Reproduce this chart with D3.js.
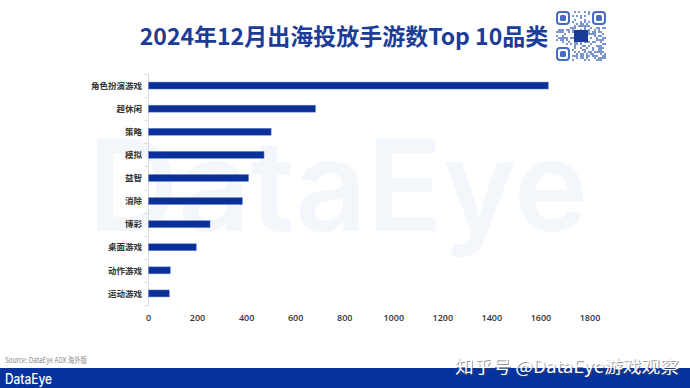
<!DOCTYPE html>
<html><head><meta charset="utf-8">
<script src="https://cdn.jsdelivr.net/npm/d3@7"></script>
<style>
html,body{margin:0;padding:0;background:#fff;}
svg{display:block;font-family:"Noto Sans CJK SC","Noto Sans",sans-serif;}
</style></head>
<body>
<svg id="c" width="690" height="388"></svg>
<script>
const categories = ["角色扮演游戏","超休闲","策略","模拟","益智","消除","博彩","桌面游戏","动作游戏","运动游戏"];
const values = [1630, 681, 500, 471, 408, 383, 251, 195, 89, 85];
const xTicks = [0,200,400,600,800,1000,1200,1400,1600,1800];
const titleText = "2024年12月出海投放手游数Top 10品类";
const sourceText = "Source: DataEye ADX 海外版";

const svg = d3.select("#c");
const W = 690, H = 388;

// background watermark (logo)
svg.append("text").attr("x", 88).attr("y", 231)
  .attr("font-family","Inter, 'Noto Sans', sans-serif").attr("font-size", 126)
  .attr("font-weight", 600).attr("fill", "#f3f7fc")
  .attr("textLength", 500).attr("lengthAdjust","spacingAndGlyphs")
  .text("DataEye");

const x = d3.scaleLinear().domain([0, 1800]).range([148.5, 590]);
const y = d3.scaleBand().domain(categories).range([74, 305]).paddingInner(0).paddingOuter(0);

// y axis line and band ticks
svg.append("line").attr("x1",148.5).attr("x2",148.5).attr("y1",74).attr("y2",305)
  .attr("stroke","#dcdcdc").attr("stroke-width",1);
const bounds = categories.map(c => y(c)).concat([y.range()[1]]);
svg.selectAll(".bt").data(bounds).join("line")
  .attr("x1",144.5).attr("x2",148.5).attr("y1",d=>Math.round(d)+0.5).attr("y2",d=>Math.round(d)+0.5)
  .attr("stroke","#dcdcdc");

// bars
const bh = 7;
svg.selectAll(".bar").data(categories).join("rect")
  .attr("x", x(0)).attr("y", d => y(d) + y.bandwidth()/2 - bh/2)
  .attr("width", (d,i) => x(values[i]) - x(0)).attr("height", bh)
  .attr("fill", "#0a2f98").attr("stroke","#6f8fd6").attr("stroke-width",0.5);

// category labels
svg.selectAll(".cl").data(categories).join("text")
  .attr("x", 142).attr("y", d => y(d) + y.bandwidth()/2 + 3.2)
  .attr("text-anchor","end").attr("font-size", 8.5).attr("font-weight",700).attr("fill","#333")
  .text(d => d);

// x tick labels
svg.selectAll(".xt").data(xTicks).join("text")
  .attr("x", d => x(d)).attr("y", 321)
  .attr("text-anchor","middle").attr("font-size", 9).attr("font-weight",600).attr("fill","#333")
  .attr("font-family","'Open Sans','Noto Sans',sans-serif")
  .text(d => d);

// title
svg.append("text").attr("x", 344).attr("y", 45).attr("text-anchor","middle")
  .attr("font-size", 23).attr("font-weight", 700).attr("fill", "#1b3c98")
  .text(titleText);

// QR code decoration
const qr = svg.append("g").attr("transform","translate(556,11)");
const N = 25, cs = 2;
qr.append("rect").attr("width", N*cs).attr("height", N*cs).attr("fill","#fff");
const cells = [];
for (let r=0;r<N;r++) for (let c=0;c<N;c++) {
  const inFinder = (r<8&&c<8)||(r<8&&c>=N-8)||(r>=N-8&&c<8);
  const h = ((r*73856093) ^ (c*19349663) ^ (r*c*83492791)) >>> 0;
  if (!inFinder && (h % 7) < 3) cells.push([r,c]);
}
qr.selectAll(".q").data(cells).join("rect")
  .attr("x", d=>d[1]*cs).attr("y", d=>d[0]*cs).attr("width",cs).attr("height",cs).attr("fill","#7d96d0");
[[0,0],[0,N-7],[N-7,0]].forEach(([r,c])=>{
  qr.append("rect").attr("x",c*cs+1).attr("y",r*cs+1).attr("width",7*cs-2).attr("height",7*cs-2)
    .attr("fill","none").attr("stroke","#4a6bbf").attr("stroke-width",2).attr("rx",3);
  qr.append("rect").attr("x",c*cs+4).attr("y",r*cs+4).attr("width",3*cs).attr("height",3*cs)
    .attr("fill","#4a6bbf").attr("rx",1.5);
});
qr.append("rect").attr("x",18).attr("y",19).attr("width",14).attr("height",12).attr("fill","#1a3c98");

// source
svg.append("text").attr("x", 5).attr("y", 363).attr("font-size", 7.5).attr("fill","#8a8a8a")
  .attr("textLength", 82).attr("lengthAdjust","spacingAndGlyphs")
  .text(sourceText);

// footer band
svg.append("rect").attr("x",0).attr("y",368).attr("width",W).attr("height",20).attr("fill","#05329c");
svg.append("text").attr("x", 5).attr("y", 384).attr("font-size", 14).attr("fill","#fff")
  .attr("font-family","Inter,'Noto Sans',sans-serif").attr("font-weight",500)
  .attr("textLength", 47).attr("lengthAdjust","spacingAndGlyphs")
  .text("DataEye");

// zhihu watermark
const wm = svg.append("g");
wm.append("text").attr("x", 456).attr("y", 374).attr("font-size", 17).attr("fill","#444").attr("opacity",0.55)
  .attr("textLength", 224).attr("lengthAdjust","spacingAndGlyphs")
  .text("知乎号 @DataEye游戏观察");
wm.append("text").attr("x", 455).attr("y", 373).attr("font-size", 17).attr("fill","#fff")
  .attr("textLength", 224).attr("lengthAdjust","spacingAndGlyphs")
  .text("知乎号 @DataEye游戏观察");
</script>
</body></html>
